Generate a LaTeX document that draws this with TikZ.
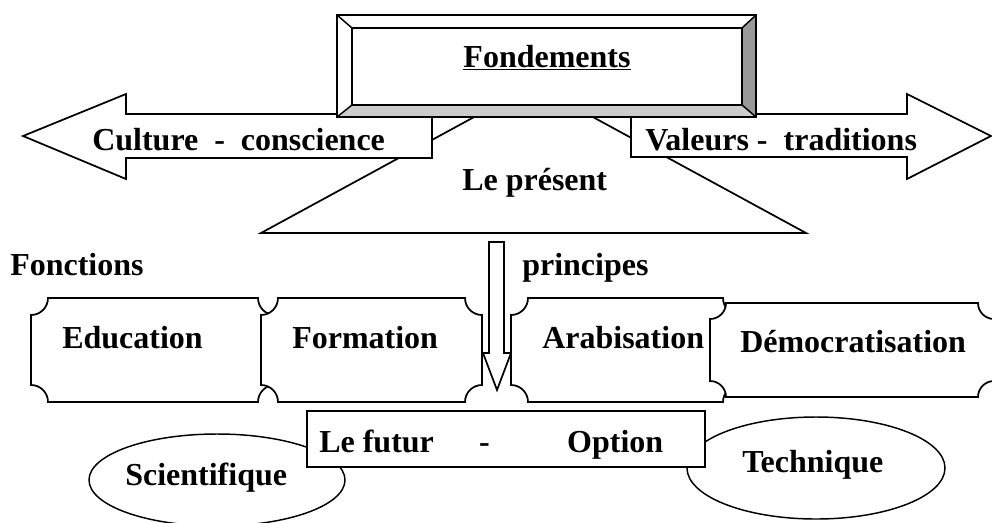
\documentclass[tikz,border=0pt]{standalone}
\usepackage{fontspec}
\setmainfont{Liberation Serif}
\definecolor{bevelside}{HTML}{999999}
\definecolor{bevelbottom}{HTML}{CCCCCC}
% plaque outline: x0, y0, x1, y1, corner radius (concave corners)
\newcommand\plaquepath[5]{%
  (#1+#5,#2) -- (#3-#5,#2) arc[start angle=180,end angle=90,radius=#5]
  -- (#3,#4-#5) arc[start angle=270,end angle=180,radius=#5]
  -- (#1+#5,#4) arc[start angle=0,end angle=-90,radius=#5]
  -- (#1,#2+#5) arc[start angle=90,end angle=0,radius=#5] -- cycle}
\begin{document}
\begin{tikzpicture}[x=0.75pt,y=-0.75pt,
  outline/.style={draw=black,line width=1.3pt,fill=white,line join=miter},
  thin outline/.style={draw=black,line width=1.1pt,fill=white},
  lbl/.style={font=\fontsize{24}{28}\selectfont\bfseries,inner sep=0pt,anchor=base west},
]
\useasboundingbox (0,0) rectangle (992,522);
\clip (0,0) rectangle (992,522);

% "Le présent" trapezoid
\draw[outline] (487,110) -- (580,110) -- (806,233) -- (261,233) -- cycle;

% side arrows
\draw[outline] (23,136) -- (126,94) -- (126,114) -- (432,114) -- (432,158)
  -- (126,158) -- (126,179) -- cycle;
\draw[outline] (991,136) -- (907,94) -- (907,114) -- (631,114) -- (631,157)
  -- (907,157) -- (907,179) -- cycle;

% bevelled title box
\fill[white] (337,15) rectangle (756,117);
\fill[bevelside] (756,15) -- (756,117) -- (742,105) -- (742,28) -- cycle;
\fill[bevelbottom] (337,117) -- (756,117) -- (742,105) -- (352,105) -- cycle;
\draw[line width=1.3pt] (337,15) rectangle (756,117);
\draw[line width=1.1pt] (352,28) rectangle (742,105);
\draw[line width=1.1pt] (337,15) -- (352,28) (756,15) -- (742,28)
  (756,117) -- (742,105) (337,117) -- (352,105);

% downward arrow
\draw[outline] (489,242) -- (504,242) -- (504,353) -- (511,353) -- (497,390)
  -- (483,353) -- (489,353) -- cycle;

% plaques
\draw[outline] \plaquepath{31}{298}{275}{402}{17};
\draw[outline] \plaquepath{261}{298}{482}{402}{17};
\draw[outline] \plaquepath{511}{298}{740}{402}{17};
\draw[outline] \plaquepath{710}{303}{994}{397}{16};

% option ellipses and box
\draw[thin outline] (217,480) ellipse[x radius=128,y radius=46];
\draw[thin outline] (816,468) ellipse[x radius=129,y radius=51];
\draw[outline] (307,411) rectangle (705,467);

% labels
\node[lbl,anchor=base] (fond) at (547,67) {\underline{Fondements}};
\node[lbl] (cult) at (92,150) {Culture\ \ -\ \ conscience};
\node[lbl] (val) at (645,150) {Valeurs -\ \ traditions};
\node[lbl] (pres) at (462,190) {Le présent};
\node[lbl] (fonc) at (10,275) {Fonctions};
\node[lbl] (princ) at (522,275) {principes};
\node[lbl] (edu) at (62,348) {Education};
\node[lbl] (form) at (292,348) {Formation};
\node[lbl] (arab) at (542,348) {Arabisation};
\node[lbl] (demo) at (740,352) {Démocratisation};
\node[lbl] (fut) at (319,452) {Le futur\hspace{34pt}-\hspace{58pt}Option};
\node[lbl] (sci) at (125,485) {Scientifique};
\node[lbl] (tech) at (742,472) {Technique};
\end{tikzpicture}
\end{document}
